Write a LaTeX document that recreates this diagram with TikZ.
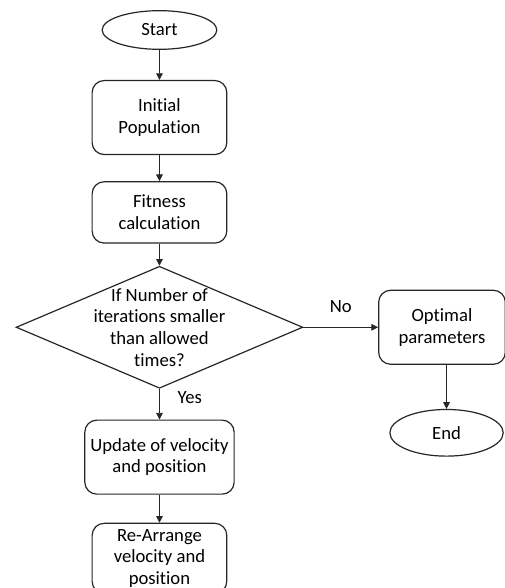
\documentclass[tikz,border=0pt]{standalone}
\usepackage{fontspec}
\setmainfont{Carlito}[Ligatures=NoCommon]
\usepackage{xcolor}
\usepackage{tikz}
\usetikzlibrary{arrows.meta,positioning,shapes.geometric}
\definecolor{linegray}{HTML}{262626}

\begin{document}
\begin{tikzpicture}[
  font=\fontsize{14}{16.2}\selectfont,
  box/.style={draw=linegray, line width=0.9pt, rounded corners=9pt, inner sep=2pt,
              minimum width=101pt, minimum height=55.5pt, align=center},
  term/.style={draw=linegray, line width=0.9pt, ellipse, inner sep=1pt,
              minimum width=86pt, minimum height=29pt},
  decision/.style={draw=linegray, line width=0.9pt, diamond, inner sep=0pt,
              minimum width=215pt, minimum height=91.5pt},
  arr/.style={-{Triangle[length=5pt,width=5pt]}, draw=linegray, line width=0.6pt}
]
\useasboundingbox (0,0) rectangle (378.75pt,-441pt);
\node[term] (start) at (119.6pt,-22.5pt) {Start};
\node[box, below=22.5pt of start] (init) {Initial\\Population};
\node[box, below=19.5pt of init, minimum height=46pt] (fit) {Fitness\\calculation};
\node[decision, below=16.5pt of fit,
      label={[align=center]center:If Number of\\iterations smaller\\than allowed\\times?}] (check) {};
\node[box, right=56pt of check, minimum width=95pt] (opt) {Optimal\\parameters};
\node[term, below=33pt of opt, xshift=3.4pt, minimum width=85pt, minimum height=35pt] (end) {End};
\node[box, below=23pt of check, minimum width=112pt] (upd) {Update of velocity\\and position};
\node[box, below=21pt of upd, minimum height=52.5pt] (rearr) {Re-Arrange\\velocity and\\position};
\draw[arr] (start) -- (init);
\draw[arr] (init) -- (fit);
\draw[arr] (fit) -- (check);
\draw[arr] (check) -- node[above=7pt] {No} (opt);
\draw[arr] (opt.south -| end.north) -- (end);
\draw[arr] (check) -- node[pos=0.3, right=10pt] {Yes} (upd);
\draw[arr] (upd) -- (rearr);
\end{tikzpicture}
\end{document}
